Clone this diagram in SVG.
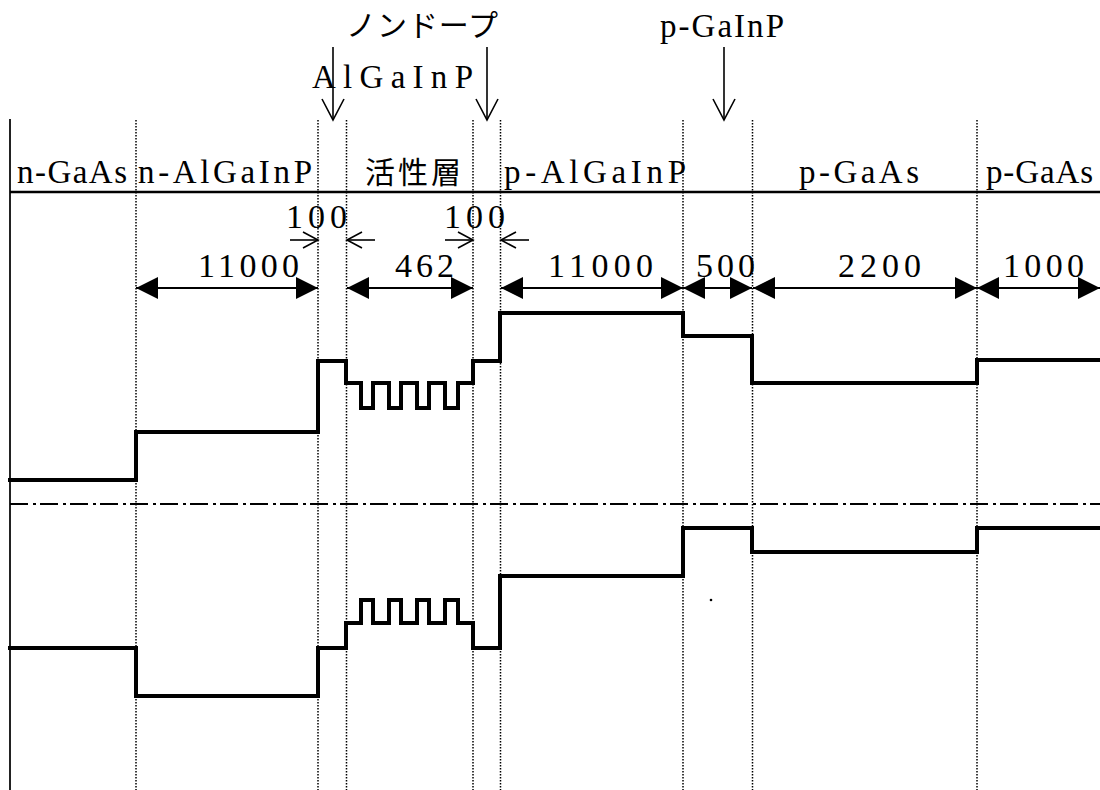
<svg xmlns="http://www.w3.org/2000/svg" width="1100" height="790" viewBox="0 0 1100 790">
<style>
.lat{font-family:"Liberation Serif","Times New Roman",serif;font-size:33px;fill:#000}
.num{font-family:"Liberation Serif","Times New Roman",serif;font-size:34px;fill:#000}
.jp{font-family:"Noto Sans CJK JP","Noto Sans",sans-serif;font-size:30px;fill:#000}
.dot{stroke:#000;stroke-width:1.5;stroke-dasharray:1.5 1.5;fill:none}
.band{stroke:#000;stroke-width:4;fill:none;stroke-linejoin:miter;stroke-linecap:square}
.dim{stroke:#000;stroke-width:2;fill:none;marker-start:url(#tri);marker-end:url(#tri)}
.pt{stroke:#000;stroke-width:1.6;fill:none;marker-end:url(#vs)}
.pb{stroke:#000;stroke-width:1.6;fill:none;marker-end:url(#vb)}
</style>
<defs>
<marker id="tri" markerUnits="userSpaceOnUse" viewBox="0 0 22 22" markerWidth="22" markerHeight="22" refX="22" refY="11" orient="auto-start-reverse">
<path d="M0,0 L22,11 L0,22 Z" fill="#000"/>
</marker>
<marker id="vs" markerUnits="userSpaceOnUse" viewBox="0 0 18 20" markerWidth="18" markerHeight="20" refX="16" refY="10" orient="auto">
<path d="M1,2 L16,10 L1,18" fill="none" stroke="#000" stroke-width="1.6"/>
</marker>
<marker id="vb" markerUnits="userSpaceOnUse" viewBox="0 0 24 26" markerWidth="24" markerHeight="26" refX="22" refY="13" orient="auto">
<path d="M1,2 L22,13 L1,24" fill="none" stroke="#000" stroke-width="1.6"/>
</marker>
</defs>
<rect width="1100" height="790" fill="#fff"/>

<g id="frame">
<line x1="10" y1="119" x2="10" y2="790" stroke="#222" stroke-width="2"/>
<line x1="10" y1="192" x2="1100" y2="192" stroke="#000" stroke-width="2.5"/>
<line x1="10" y1="504" x2="1100" y2="504" stroke="#000" stroke-width="2" stroke-dasharray="18 5 3 4"/>
</g>

<g id="boundaries">
<line class="dot" x1="136" y1="120" x2="136" y2="790"/>
<line class="dot" x1="318" y1="120" x2="318" y2="790"/>
<line class="dot" x1="346.5" y1="120" x2="346.5" y2="790"/>
<line class="dot" x1="473" y1="120" x2="473" y2="790"/>
<line class="dot" x1="500.5" y1="120" x2="500.5" y2="790"/>
<line class="dot" x1="683" y1="120" x2="683" y2="790"/>
<line class="dot" x1="752.5" y1="120" x2="752.5" y2="790"/>
<line class="dot" x1="977" y1="120" x2="977" y2="790"/>
</g>

<g id="layer-labels">
<text class="lat" x="17" y="183" textLength="110" lengthAdjust="spacing">n-GaAs</text>
<text class="lat" x="138" y="183" textLength="174" lengthAdjust="spacing">n-AlGaInP</text>
<text class="jp" x="365" y="183" textLength="96" lengthAdjust="spacing">活性層</text>
<text class="lat" x="504" y="183" textLength="182" lengthAdjust="spacing">p-AlGaInP</text>
<text class="lat" x="799" y="183" textLength="120" lengthAdjust="spacing">p-GaAs</text>
<text class="lat" x="986" y="183" textLength="107" lengthAdjust="spacing">p-GaAs</text>
</g>

<g id="callouts">
<text class="jp" x="346" y="36" textLength="152" lengthAdjust="spacing">ノンドープ</text>
<text class="lat" x="312" y="88" textLength="161" lengthAdjust="spacing">AlGaInP</text>
<text class="lat" x="660" y="37" textLength="124" lengthAdjust="spacing">p-GaInP</text>
</g>

<g id="connectors">
<line class="pb" x1="333" y1="47" x2="333" y2="120"/>
<line class="pb" x1="487" y1="47" x2="487" y2="120"/>
<line class="pb" x1="724" y1="47" x2="724" y2="120"/>
<line class="pt" x1="290" y1="240" x2="318" y2="240"/>
<line class="pt" x1="375" y1="240" x2="347" y2="240"/>
<line class="pt" x1="445" y1="240" x2="473" y2="240"/>
<line class="pt" x1="529" y1="240" x2="501" y2="240"/>
<line class="dim" x1="136" y1="288" x2="318" y2="288"/>
<line class="dim" x1="347" y1="288" x2="473" y2="288"/>
<line class="dim" x1="501" y1="288" x2="683" y2="288"/>
<line class="dim" x1="683" y1="288" x2="752" y2="288"/>
<line class="dim" x1="753" y1="288" x2="977" y2="288"/>
<line class="dim" x1="977" y1="288" x2="1100" y2="288"/>
</g>

<g id="thickness">
<text class="num" x="286" y="228" textLength="61" lengthAdjust="spacing">100</text>
<text class="num" x="444" y="228" textLength="61" lengthAdjust="spacing">100</text>
<text class="num" x="198" y="277" textLength="101" lengthAdjust="spacing">11000</text>
<text class="num" x="395" y="277" textLength="59" lengthAdjust="spacing">462</text>
<text class="num" x="548" y="277" textLength="105" lengthAdjust="spacing">11000</text>
<text class="num" x="696" y="277" textLength="59" lengthAdjust="spacing">500</text>
<text class="num" x="838" y="277" textLength="83" lengthAdjust="spacing">2200</text>
<text class="num" x="1003" y="277" textLength="81" lengthAdjust="spacing">1000</text>
</g>

<g id="conduction-band">
<path class="band" d="M10,480 H136 V432 H318 V361 H346 V383 H361 V408 H373 V383 H389 V408 H401 V383 H417 V408 H429 V383 H445 V408 H458 V383 H473 V361 H500 V313 H683 V336 H752 V383 H977 V360 H1102"/>
</g>

<g id="valence-band">
<path class="band" d="M10,648 H136 V696 H318 V648 H346 V623 H361 V600 H373 V623 H389 V600 H401 V623 H417 V600 H429 V623 H445 V600 H458 V623 H473 V648 H500 V576 H683 V528 H752 V552 H977 V528 H1102"/>
</g>

<circle cx="711" cy="600" r="1.3" fill="#000"/>
</svg>
